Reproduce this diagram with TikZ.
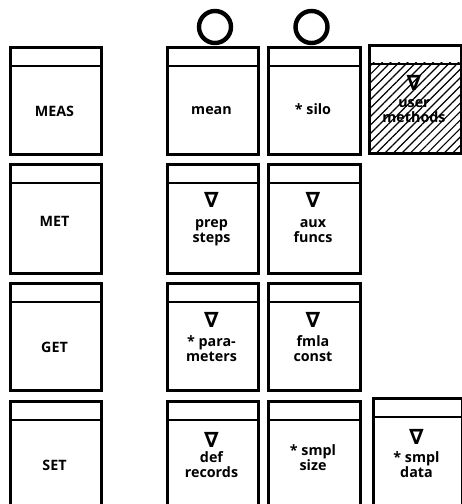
\documentclass[tikz,border=0pt]{standalone}
\usepackage{fontspec}
\setmainfont{Open Sans}
\newfontfamily\symfont{DejaVu Sans}
\usetikzlibrary{patterns.meta}
\begin{document}
\begin{tikzpicture}[x=1pt,y=1pt,
  cell/.style={draw, line width=2.6pt, rectangle, inner sep=0pt, anchor=north west,
    path picture={\draw[line width=2.2pt] ([yshift=-19pt]path picture bounding box.north west) -- ([yshift=-19pt]path picture bounding box.north east);}},
  lbl/.style={font=\bfseries\fontsize{14.3}{15}\selectfont, inner sep=0pt, anchor=base, align=center},
  tri/.style={font=\symfont\bfseries\fontsize{21}{21}\selectfont, inner sep=0pt},
  ring/.style={draw, circle, line width=4.4pt, minimum size=32pt, inner sep=0pt},
  hatch/.style={pattern={Lines[angle=45,distance=6pt,line width=1.2pt]}}]
\useasboundingbox (0,0) rectangle (462,504);
\clip (0,0) rectangle (462,504);
% column 1
\node[cell, minimum width=91pt, minimum height=107pt] (bmeas) at (9,458) {};
\node[cell, minimum width=91pt, minimum height=109pt] (bmet) at (9,341) {};
\node[cell, minimum width=91pt, minimum height=107pt] (bget) at (9,222) {};
\node[cell, minimum width=91pt, minimum height=116pt] (bset) at (9,104) {};
% column 2
\node[cell, minimum width=91pt, minimum height=107pt] (bmean) at (166,458) {};
\node[cell, minimum width=91pt, minimum height=109pt] (bprep) at (166,341) {};
\node[cell, minimum width=91pt, minimum height=107pt] (bpara) at (166,222) {};
\node[cell, minimum width=91pt, minimum height=116pt] (bdef) at (166,104) {};
% column 3
\node[cell, minimum width=92pt, minimum height=107pt] (bsilo) at (267,458) {};
\node[cell, minimum width=92pt, minimum height=109pt] (baux) at (267,341) {};
\node[cell, minimum width=92pt, minimum height=107pt] (bfmla) at (267,222) {};
\node[cell, minimum width=92pt, minimum height=116pt] (bsize) at (267,104) {};
% column 4
\node[cell, minimum width=92pt, minimum height=108pt] (buser) at (368,460) {};
\node[cell, minimum width=89pt, minimum height=119pt] (bdata) at (372,107) {};
% rings
\node[ring] (ring1) at (215,477) {};
\node[ring] (ring2) at (311.5,477) {};
% labels
\node[lbl] (tmeas) at (54.5,387) {MEAS};
\node[lbl] (tmet) at (54.5,277) {MET};
\node[lbl] (tget) at (54.5,151) {GET};
\node[lbl] (tset) at (54.5,34) {SET};
\node[lbl] (tmean) at (211.5,389) {mean};
\node[lbl] (tsilo) at (313,389) {* silo};
\node[tri] (vuser) at (414,421) {∇};
\node[lbl] (tuser) at (414,381) {user\\methods};
\node[tri] (vprep) at (211.5,304) {∇};
\node[lbl] (tprep) at (211.5,261) {prep\\steps};
\node[tri] (vaux) at (313,304) {∇};
\node[lbl] (taux) at (313,261) {aux\\funcs};
\node[tri] (vpara) at (211.5,184) {∇};
\node[lbl] (tpara) at (211.5,142) {* para-\\meters};
\node[tri] (vfmla) at (313,184) {∇};
\node[lbl] (tfmla) at (313,142) {fmla\\const};
\node[tri] (vdef) at (211.5,64) {∇};
\node[lbl] (tdef) at (211.5,27) {def\\records};
\node[lbl] (tsize) at (313,33) {* smpl\\size};
\node[tri] (vdata) at (416.5,67) {∇};
\node[lbl] (tdata) at (416.5,27) {* smpl\\data};
% hatching over user methods body
\path[hatch] ([yshift=-19pt]buser.north west) rectangle (buser.south east);
\end{tikzpicture}
\end{document}
